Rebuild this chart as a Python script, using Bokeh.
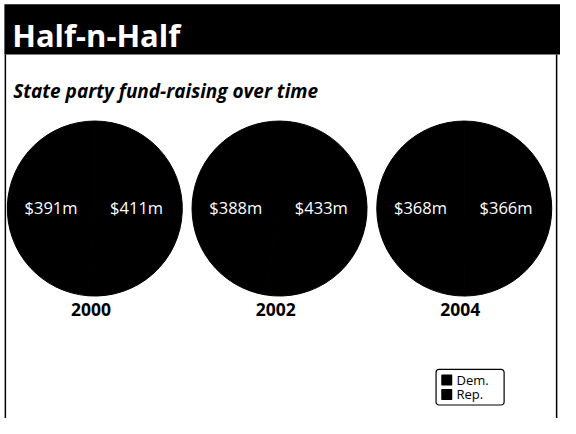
from bokeh.plotting import figure
from bokeh.models import Range1d
from bokeh.core.properties import value
from bokeh.embed import file_html
from bokeh.resources import INLINE
import math

# ---- data ----
years = ["2000", "2002", "2004"]
dem_values = [391, 388, 368]   # $ millions
rep_values = [411, 433, 366]   # $ millions
parties = ["Dem.", "Rep."]
party_colors = ["#000000", "#000000"]
title_text = "Half-n-Half"
subtitle_text = "State party fund-raising over time"

FONT = "Open Sans"

p = figure(width=560, height=418, output_backend="svg", toolbar_location=None,
           x_range=Range1d(0, 576), y_range=Range1d(434, 0),
           min_border=0, min_border_left=0, min_border_right=0,
           min_border_top=0, min_border_bottom=0)
p.axis.visible = False
p.grid.visible = False
p.outline_line_color = None
p.background_fill_color = "white"
p.border_fill_color = "white"

# title bar
p.quad(left=[4], right=[576], top=[4], bottom=[56], fill_color="black", line_color=None)
p.text(x=[12], y=[36], text=[title_text], text_color="white",
       text_font=value(FONT), text_font_style="bold", text_font_size="31px",
       text_baseline="middle", text_align="left")
# panel border
p.segment(x0=[5, 572], y0=[56, 56], x1=[5, 572], y1=[434, 434],
          line_color="black", line_width=1.5)
# subtitle
p.text(x=[13], y=[94], text=[subtitle_text], text_color="black",
       text_font=value(FONT), text_font_style="bold italic", text_font_size="19px",
       text_baseline="middle", text_align="left")

# pies
cx0, dx, cy, r = 97, 190, 216, 90
xs = [cx0 + i * dx for i in range(len(years))]
starts_d, ends_d, starts_r, ends_r = [], [], [], []
for d, rv in zip(dem_values, rep_values):
    frac = d / (d + rv)
    a0 = math.pi / 2
    a1 = a0 + frac * 2 * math.pi
    starts_d.append(a0); ends_d.append(a1)
    starts_r.append(a1); ends_r.append(a0 + 2 * math.pi)

p.wedge(x=xs, y=[cy] * 3, radius=r, start_angle=starts_d, end_angle=ends_d,
        fill_color=party_colors[0], line_color=party_colors[0])
p.wedge(x=xs, y=[cy] * 3, radius=r, start_angle=starts_r, end_angle=ends_r,
        fill_color=party_colors[1], line_color=party_colors[1])

dem_labels = [f"${v}m" for v in dem_values]
rep_labels = [f"${v}m" for v in rep_values]
p.text(x=[x - 45 for x in xs], y=[cy - 1] * 3, text=dem_labels, text_color="white",
       text_font=value(FONT), text_font_size="16.5px", text_align="center",
       text_baseline="middle")
p.text(x=[x + 43 for x in xs], y=[cy - 1] * 3, text=rep_labels, text_color="white",
       text_font=value(FONT), text_font_size="16.5px", text_align="center",
       text_baseline="middle")

# year labels
p.text(x=[x - 4 for x in xs], y=[321] * 3, text=years, text_color="black",
       text_font=value(FONT), text_font_style="bold", text_font_size="17.5px",
       text_align="center", text_baseline="middle")

# legend
p.quad(left=[448], right=[518], top=[383], bottom=[420], fill_color="white",
       line_color="black", line_width=1.2, border_radius=3)
ly = [394, 409]
p.scatter(x=[459] * 2, y=ly, marker="square", size=9.5, fill_color=party_colors,
          line_color=party_colors, line_join="round", line_width=1.5)
p.text(x=[469] * 2, y=ly, text=parties, text_color="black",
       text_font=value(FONT), text_font_size="13px", text_align="left",
       text_baseline="middle")

open("out.html", "w").write(file_html(p, INLINE))
